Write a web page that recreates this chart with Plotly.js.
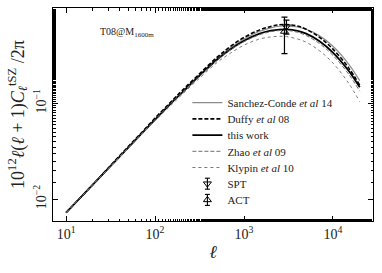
<!DOCTYPE html>
<html>
<head>
<meta charset="utf-8">
<script src="https://cdn.plot.ly/plotly-3.0.1.min.js"></script>
<style>html,body{margin:0;padding:0;background:#fff;}#chart{width:382px;height:273px;}</style>
</head>
<body>
<div id="chart"></div>
<script>
// multipole values
const ell = [10,15,20,30,50,70,100,150,200,300,500,700,1000,1500,2000,2500,3000,4000,5000,7000,10000,15000,20000];

// 10^12 l(l+1) C_l^tSZ / 2pi for each model
const sanchezConde14 = [0.007244,0.010740,0.014191,0.021038,0.034514,0.047863,0.068392,0.100464,0.130020,0.189236,0.292417,0.376688,0.468800,0.562365,0.610931,0.635315,0.638248,0.623747,0.590214,0.506986,0.392629,0.256449,0.172188];
const duffy08 = [0.007244,0.010740,0.014191,0.021282,0.035318,0.048978,0.069981,0.102798,0.134583,0.193637,0.302705,0.389935,0.485276,0.582114,0.632426,0.657647,0.660683,0.638253,0.590214,0.489789,0.366429,0.233880,0.153458];
const thisWork = [0.007244,0.010740,0.014191,0.021038,0.034514,0.047863,0.067608,0.099312,0.128529,0.184927,0.285759,0.363915,0.447713,0.530884,0.570164,0.586138,0.588844,0.568853,0.532108,0.446684,0.338065,0.218273,0.146555];
const zhao09 = [0.007244,0.010740,0.014191,0.021038,0.034514,0.047863,0.067608,0.099312,0.128529,0.182819,0.282501,0.359766,0.437505,0.518780,0.557164,0.572774,0.575418,0.549569,0.508163,0.421714,0.315516,0.201379,0.133658];
const klypin10 = [0.007244,0.010740,0.014191,0.020798,0.033727,0.046772,0.065316,0.094843,0.122745,0.174590,0.266699,0.331890,0.403658,0.467709,0.490911,0.498862,0.495453,0.467711,0.432497,0.354801,0.262406,0.161806,0.103746];

// measurements
const sptEll = [3000];
const sptVal = [0.63];
const sptErr = [0.105];
const actEll = [2850];
const actVal = [0.56];
const actErr = [0.23];

const legendNames = ['Sanchez-Conde <i>et al</i> 14','Duffy <i>et al</i> 08','this work','Zhao <i>et al</i> 09','Klypin <i>et al</i> 10','SPT','ACT'];

const xTickVals = [10,100,1000,10000];
const xTickText = ['10<sup>1</sup>','10<sup>2</sup>','10<sup>3</sup>','10<sup>4</sup>'];
const yTickVals = [0.01,0.1];
const yTickText = ['10<sup>−2</sup>','10<sup>−1</sup>'];

const serif = 'Liberation Serif, DejaVu Serif, serif';

const traces = [
  {x: ell, y: sanchezConde14, name: legendNames[0], legend: 'legend', mode: 'lines', line: {color: '#8c8c8c', width: 1.2, shape: 'spline'}},
  {x: ell, y: duffy08, name: legendNames[1], legend: 'legend2', mode: 'lines', line: {color: '#000', width: 1.6, dash: '4px,2px', shape: 'spline'}},
  {x: ell, y: thisWork, name: legendNames[2], legend: 'legend3', mode: 'lines', line: {color: '#000', width: 1.8, shape: 'spline'}},
  {x: ell, y: zhao09, name: legendNames[3], legend: 'legend4', mode: 'lines', line: {color: '#6e6e6e', width: 1, dash: '4px,2px', shape: 'spline'}},
  {x: ell, y: klypin10, name: legendNames[4], legend: 'legend5', mode: 'lines', line: {color: '#7a7a7a', width: 1, dash: 'dot', shape: 'spline'}},
  {x: sptEll, y: sptVal, name: legendNames[5], legend: 'legend6', mode: 'markers', marker: {symbol: 'triangle-down-open', size: 7, color: '#000', line: {width: 1}},
   error_y: {type: 'data', array: sptErr, color: '#000', thickness: 1.2, width: 3}},
  {x: actEll, y: actVal, name: legendNames[6], legend: 'legend7', mode: 'markers', marker: {symbol: 'triangle-up-open', size: 7, color: '#000', line: {width: 1}},
   error_y: {type: 'data', array: actErr, color: '#000', thickness: 1.2, width: 3}}
];

// plot area geometry (px) used to place legend rows
const plotTop = 8, plotH = 273 - 8 - 52, plotL = 53, plotW = 382 - 53 - 9;
const rowY = [102.7, 118.9, 135.1, 151.3, 167.5, 183.7, 199.9];
const legX = 0.42;
const py2paper = py => (plotTop + plotH - py) / plotH;
const px2paper = px => (px - plotL) / plotW;

function legendAt(py) {
  return {x: legX, y: py2paper(py), xanchor: 'left', yanchor: 'middle',
          bgcolor: 'rgba(0,0,0,0)', borderwidth: 0, itemwidth: 30,
          font: {family: serif, size: 11, color: '#222'}};
}

// error-bar glyphs next to the SPT / ACT legend symbols
const symX = plotL + plotW * legX + 20;
function legendErrGlyph(py) {
  const half = 5.5, cap = 2.5;
  const base = {type: 'line', xref: 'paper', yref: 'paper', line: {color: '#000', width: 1.1}};
  return [
    Object.assign({}, base, {x0: px2paper(symX), x1: px2paper(symX), y0: py2paper(py + half), y1: py2paper(py - half)}),
    Object.assign({}, base, {x0: px2paper(symX - cap), x1: px2paper(symX + cap), y0: py2paper(py + half), y1: py2paper(py + half)}),
    Object.assign({}, base, {x0: px2paper(symX - cap), x1: px2paper(symX + cap), y0: py2paper(py - half), y1: py2paper(py - half)})
  ];
}

const layout = {
  width: 382, height: 273,
  margin: {l: plotL, r: 9, t: plotTop, b: 52},
  paper_bgcolor: '#fff', plot_bgcolor: '#fff',
  font: {family: serif, color: '#000'},
  showlegend: true,
  legend: legendAt(rowY[0]),
  legend2: legendAt(rowY[1]),
  legend3: legendAt(rowY[2]),
  legend4: legendAt(rowY[3]),
  legend5: legendAt(rowY[4]),
  legend6: legendAt(rowY[5]),
  legend7: legendAt(rowY[6]),
  shapes: legendErrGlyph(rowY[5]).concat(legendErrGlyph(rowY[6])),
  xaxis: {
    type: 'log', range: [0.853, 4.45],
    tickvals: xTickVals, ticktext: xTickText,
    ticks: 'inside', ticklen: 5, tickcolor: '#000', tickwidth: 1,
    minor: {ticks: 'inside', ticklen: 2.5, tickcolor: '#000', showgrid: false},
    showline: true, linecolor: '#000', linewidth: 1.2, mirror: 'allticks',
    showgrid: false, zeroline: false,
    tickfont: {family: serif, size: 14, color: '#222'},
    title: {text: '<i>ℓ</i>', font: {family: serif, size: 18, color: '#222'}, standoff: 4}
  },
  yaxis: {
    type: 'log', range: [-2.227, -0.007],
    tickvals: yTickVals, ticktext: yTickText, tickangle: -90,
    ticks: 'inside', ticklen: 5, tickcolor: '#000', tickwidth: 1,
    minor: {ticks: 'inside', ticklen: 2.5, tickcolor: '#000', showgrid: false},
    showline: true, linecolor: '#000', linewidth: 1.2, mirror: 'allticks',
    showgrid: false, zeroline: false,
    tickfont: {family: serif, size: 14, color: '#222'},
    title: {text: '10<sup>12</sup><i>ℓ</i>(<i>ℓ</i> + 1)<i>C</i><sub><i>ℓ</i></sub><sup>tSZ</sup> /2π', font: {family: serif, size: 18, color: '#222'}, standoff: 2}
  },
  annotations: [
    {xref: 'paper', yref: 'paper', x: 0.14, y: 0.885, xanchor: 'left', yanchor: 'middle', showarrow: false,
     text: 'T08@M<sub>1600m</sub>', font: {family: serif, size: 10, color: '#222'}}
  ]
};

Plotly.newPlot('chart', traces, layout, {displayModeBar: false, staticPlot: true});
</script>
</body>
</html>
